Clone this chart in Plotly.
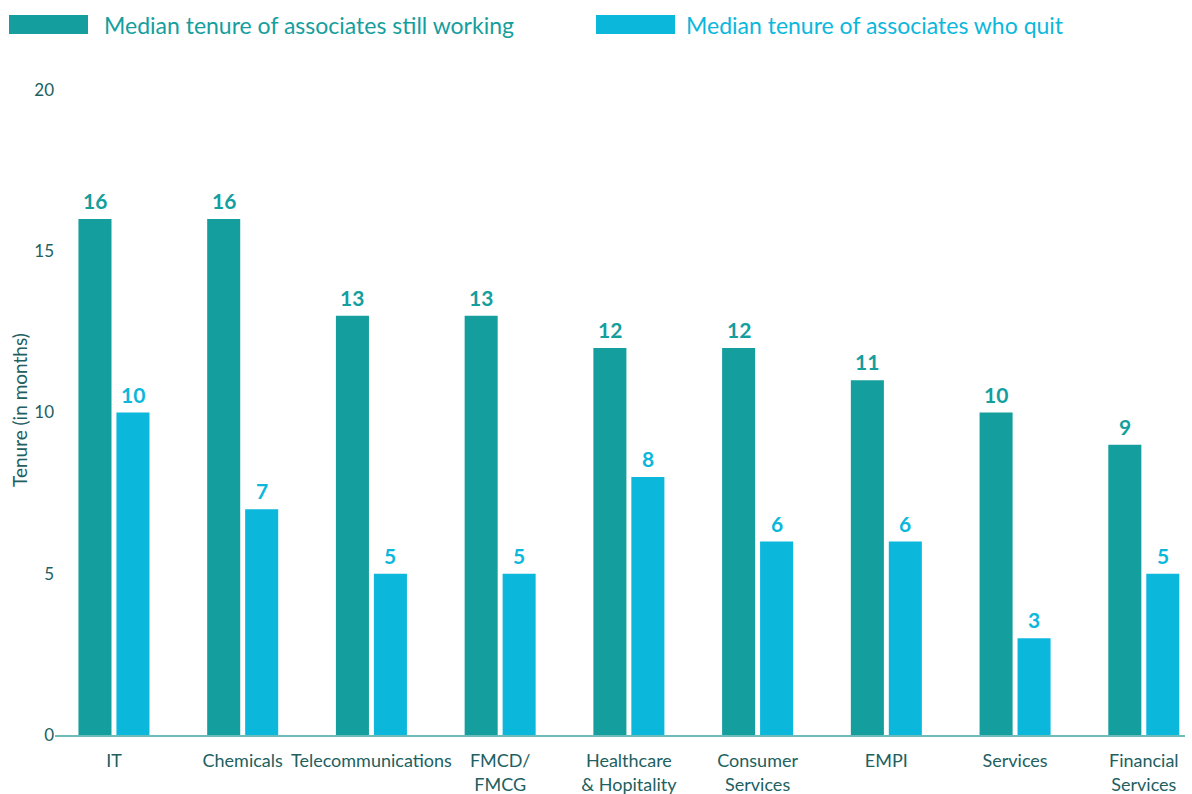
import plotly.graph_objects as go

# Sector names (two-line labels use <br>)
categories = [
    "IT", "Chemicals", "Telecommunications", "FMCD/<br>FMCG",
    "Healthcare<br>& Hopitality", "Consumer<br>Services", "EMPI",
    "Services", "Financial<br>Services",
]
still_working = [16, 16, 13, 13, 12, 12, 11, 10, 9]
who_quit = [10, 7, 5, 5, 8, 6, 6, 3, 5]
series_names = [
    "Median tenure of associates still working",
    "Median tenure of associates who quit",
]
y_ticks = [0, 5, 10, 15, 20]

TEAL = "#149e9e"
CYAN = "#0cb7dc"
DARK = "#21605f"
FONT = "Lato, 'Open Sans', sans-serif"

x_idx = list(range(len(categories)))

fig = go.Figure()
fig.add_trace(go.Bar(x=x_idx, y=still_working, name=series_names[0],
                     marker=dict(color=TEAL, line_width=0)))
fig.add_trace(go.Bar(x=x_idx, y=who_quit, name=series_names[1],
                     marker=dict(color=CYAN, line_width=0)))

# Value labels above each bar
for vals, color, shift in [(still_working, TEAL, -19), (who_quit, CYAN, 19)]:
    for i, v in enumerate(vals):
        fig.add_annotation(x=i, y=v, text=f"<b>{v}</b>", showarrow=False,
                           xref="x", yref="y", xshift=shift, yshift=4,
                           yanchor="bottom",
                           font=dict(family=FONT, size=21, color=color))

# Custom wide legend swatches drawn at the top (pixel positions)
legend_items = [(9, 93, series_names[0], TEAL), (596, 88, series_names[1], CYAN)]
for px0, text_off, label, color in legend_items:
    fig.add_shape(type="rect", xref="paper", yref="paper",
                  x0=(px0 - 55) / 1130, x1=(px0 + 79 - 55) / 1130,
                  y0=(735 - 34) / 645, y1=(735 - 15) / 645,
                  fillcolor=color, line_width=0)
    fig.add_annotation(xref="paper", yref="paper",
                       x=(px0 + text_off - 55) / 1130, y=(735 - 25) / 645,
                       xanchor="left", yanchor="middle", showarrow=False,
                       text=label, font=dict(family=FONT, size=23, color=color))

# Vertical axis title
fig.add_annotation(xref="paper", yref="paper", x=(19 - 55) / 1130,
                   y=(735 - 410) / 645, textangle=-90, showarrow=False,
                   xanchor="center", yanchor="middle",
                   text="Tenure (in months)",
                   font=dict(family=FONT, size=19, color=DARK))

fig.update_layout(
    width=1192, height=794,
    margin=dict(l=55, r=7, t=90, b=59, autoexpand=False),
    paper_bgcolor="white", plot_bgcolor="white",
    barmode="group", bargap=0.41, bargroupgap=0.13,
    showlegend=False,
    font=dict(family=FONT, color=DARK),
)
fig.update_xaxes(
    range=[-0.458, 8.32], automargin=False,
    tickmode="array", tickvals=x_idx, ticktext=categories,
    tickfont=dict(family=FONT, size=18, color=DARK),
    showline=True, linecolor="#6cbcbc", linewidth=1.5,
    showgrid=False, zeroline=False, ticks="", ticklabelstandoff=9,
)
fig.update_yaxes(
    range=[0, 20], tickvals=y_ticks, automargin=False,
    tickfont=dict(family=FONT, size=17, color=DARK),
    showgrid=False, zeroline=False, showline=False, ticks="",
)

fig.write_html("out.html")
